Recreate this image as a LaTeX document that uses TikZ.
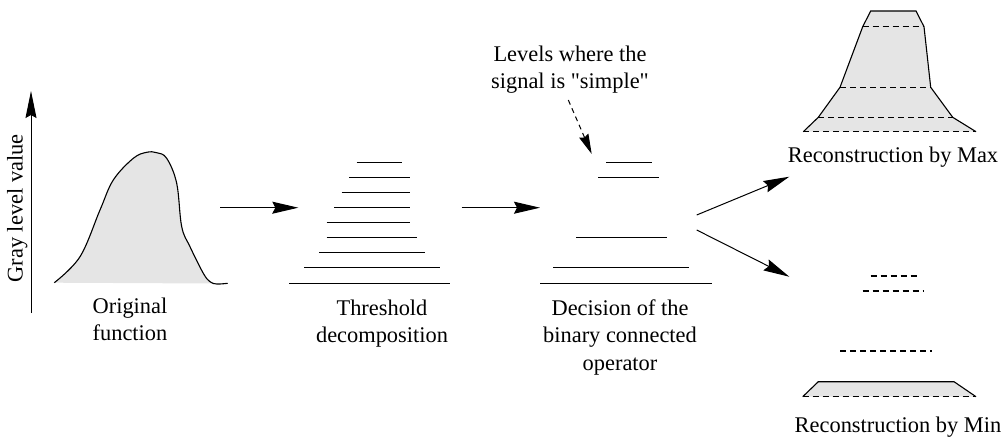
\documentclass[tikz,border=0pt]{standalone}
\usepackage{fontspec}
\setmainfont{Liberation Serif}
\newfontfamily\plainq{Liberation Serif}
\usetikzlibrary{arrows.meta}
\definecolor{fillg}{RGB}{229,229,229}
\begin{document}
\begin{tikzpicture}[x=1pt,y=-1pt,
  lbl/.style={inner sep=0pt,align=center,font=\fontsize{22.4}{27.5}\selectfont,anchor=base},
  lev/.style={line width=1.3pt},
  dlev/.style={line width=1.1pt,dash pattern=on 6pt off 4pt},
  flow/.style={line width=1pt,-{Stealth[length=26pt,width=12pt,inset=3pt]}},
  note/.style={line width=1pt,dash pattern=on 5pt off 4pt,-{Stealth[length=20pt,width=10pt,inset=2pt]}},
  outline/.style={line width=1.1pt}
]
\useasboundingbox (0,0) rectangle (1003,439);

% axis
\coordinate (axb) at (31,313);
\coordinate (axt) at (31,91);
\draw[line width=1pt,-{Stealth[length=27pt,width=11pt,inset=3pt]}] (axb) -- (axt);
\node[lbl,rotate=90] (axlbl) at (22.5,208.5) {Gray level value};

% original function
\fill[fillg] plot[smooth,tension=0.6] coordinates {(54.3,282.7) (80,256.7) (100,210) (113.3,180) (133.3,158.3) (146.7,152.3) (156.7,152.7) (166.7,158.3) (176.7,183.3) (181.7,226.7) (190,246.7) (203.3,273.3) (210,281.7) (213,283.5)} -- cycle;
\draw[outline] plot[smooth,tension=0.6] coordinates {(54.3,282.7) (80,256.7) (100,210) (113.3,180) (133.3,158.3) (146.7,152.3) (156.7,152.7) (166.7,158.3) (176.7,183.3) (181.7,226.7) (190,246.7) (203.3,273.3) (210,281.7) (216.7,284) (227.7,283.3)};
\node[lbl] (orig) at (130,340.5) {Original\\function};

% arrow 1
\coordinate (a1s) at (220,207.7);
\coordinate (a1e) at (298.3,207.7);
\draw[flow] (a1s) -- (a1e);

% threshold decomposition
\draw[lev] (356.7,162.7) -- (401.7,162.7);
\draw[lev] (349,177.7) -- (410,177.7);
\draw[lev] (341.7,192.7) -- (410,192.7);
\draw[lev] (334,207.7) -- (410,207.7);
\draw[lev] (326.7,222.7) -- (410,222.7);
\draw[lev] (326.7,237.7) -- (417.3,237.7);
\draw[lev] (319,252.7) -- (425,252.7);
\draw[lev] (304,267.7) -- (440,267.7);
\draw[lev] (289,283.3) -- (450,283.3);
\node[lbl] (thr) at (382,342.5) {Threshold\\decomposition};

% arrow 2
\coordinate (a2s) at (461.7,207.7);
\coordinate (a2e) at (540,207.7);
\draw[flow] (a2s) -- (a2e);

% decision
\draw[lev] (606,162.7) -- (651.7,162.7);
\draw[lev] (598.3,177.7) -- (659,177.7);
\draw[lev] (576,237.7) -- (666.7,237.7);
\draw[lev] (553.3,267.7) -- (689.3,267.7);
\draw[lev] (540,283.3) -- (711.7,283.3);
\node[lbl] (dec) at (620,370) {Decision of the\\binary connected\\operator};

% note
\node[lbl] (note) at (570,88.5) {Levels where the\\signal is {\plainq "}simple{\plainq "}};
\coordinate (ns) at (568.3,100);
\coordinate (ne) at (591.7,154);
\draw[note] (ns) -- (ne);

% diagonal arrows
\coordinate (a3s) at (696.7,215);
\coordinate (a3e) at (789.3,176.7);
\draw[flow] (a3s) -- (a3e);
\coordinate (a4s) at (696.7,230);
\coordinate (a4e) at (789.3,276.7);
\draw[flow] (a4s) -- (a4e);

% reconstruction by max
\fill[fillg] (803.3,131.7) -- (818.3,117.3) -- (840,87.3) -- (862.7,26.7) -- (870.7,11) -- (916,11) -- (924,26.7) -- (930.7,87.3) -- (952.7,117.3) -- (976,131.7) -- cycle;
\draw[outline] (803.3,131.7) -- (818.3,117.3) -- (840,87.3) -- (862.7,26.7) -- (870.7,11) -- (916,11) -- (924,26.7) -- (930.7,87.3) -- (952.7,117.3) -- (976,131.7);
\draw[dlev] (862.7,26.7) -- (924,26.7);
\draw[dlev] (840,87.3) -- (930.7,87.3);
\draw[dlev] (818.3,117.3) -- (952.7,117.3);
\draw[dlev] (803.3,131.7) -- (976,131.7);
\node[lbl] (rmax) at (893,162) {Reconstruction by Max};

% reconstruction by min
\draw[dlev] (870.7,276) -- (916.7,276);
\draw[dlev] (862.7,291) -- (924,291);
\draw[dlev] (840,351) -- (931.7,351);
\fill[fillg] (802.7,396.7) -- (818.3,381.7) -- (954,381.7) -- (976,396.7) -- cycle;
\draw[outline] (802.7,396.7) -- (818.3,381.7) -- (954,381.7) -- (976,396.7);
\draw[dlev] (802.7,396.7) -- (976,396.7);
\node[lbl] (rmin) at (898,432) {Reconstruction by Min};
\end{tikzpicture}
\end{document}
